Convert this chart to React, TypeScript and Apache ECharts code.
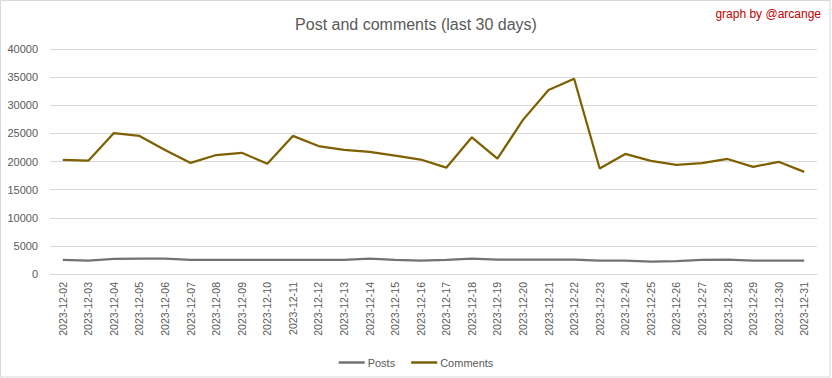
import React, { useEffect, useRef } from "react";
import * as echarts from "echarts";

const dates = [
  "2023-12-02", "2023-12-03", "2023-12-04", "2023-12-05", "2023-12-06",
  "2023-12-07", "2023-12-08", "2023-12-09", "2023-12-10", "2023-12-11",
  "2023-12-12", "2023-12-13", "2023-12-14", "2023-12-15", "2023-12-16",
  "2023-12-17", "2023-12-18", "2023-12-19", "2023-12-20", "2023-12-21",
  "2023-12-22", "2023-12-23", "2023-12-24", "2023-12-25", "2023-12-26",
  "2023-12-27", "2023-12-28", "2023-12-29", "2023-12-30", "2023-12-31",
];

const posts = [
  2490, 2370, 2670, 2730, 2730, 2490, 2490, 2490, 2490, 2490,
  2490, 2490, 2730, 2490, 2370, 2490, 2730, 2550, 2550, 2550,
  2550, 2370, 2370, 2190, 2310, 2490, 2550, 2370, 2370, 2370,
];

const comments = [
  20300, 20150, 25050, 24550, 22050, 19750, 21150, 21550, 19600, 24550,
  22750, 22050, 21700, 21050, 20350, 18900, 24300, 20500, 27400, 32700,
  34700, 18750, 21350, 20100, 19400, 19700, 20450, 19050, 19950, 18150,
];

const yTicks = { min: 0, max: 40000, interval: 5000 };

const FONT = "'Liberation Sans', Arial, sans-serif";

export default function App() {
  const ref = useRef<HTMLDivElement>(null);
  useEffect(() => {
    document.body.style.margin = "0";
    const chart = echarts.init(ref.current!, null, { renderer: "svg" });
    chart.setOption({
      animation: false,
      backgroundColor: "#ffffff",
      textStyle: { fontFamily: FONT },
      title: {
        text: "Post and comments (last 30 days)",
        left: "center",
        top: 11,
        textStyle: { fontFamily: FONT, fontSize: 16, fontWeight: "normal", color: "#595959" },
      },
      graphic: [
        {
          type: "rect",
          shape: { x: 0.5, y: 0.5, width: 829.5, height: 376.5 },
          style: { fill: "none", stroke: "#D9D9D9", lineWidth: 1 },
          silent: true,
        },
        {
          type: "text",
          right: 11,
          top: 8,
          style: { text: "graph by @arcange", fill: "#C00000", font: `12px ${FONT}` },
        },
      ],
      legend: {
        data: ["Posts", "Comments"],
        left: "center",
        top: 352,
        icon: "rect",
        itemWidth: 26,
        itemHeight: 2.5,
        itemGap: 16,
        textStyle: { fontFamily: FONT, fontSize: 11, color: "#595959", padding: [0, 0, 0, -2] },
      },
      grid: {
        left: 50,
        right: 15,
        top: 49,
        bottom: 104,
        containLabel: false,
        outerBoundsMode: "none",
      },
      xAxis: {
        type: "category",
        data: dates,
        boundaryGap: true,
        axisLine: { show: true, lineStyle: { color: "#D9D9D9", width: 1 } },
        axisTick: { show: false },
        axisLabel: {
          rotate: 90,
          interval: 0,
          margin: 8,
          fontSize: 10.5,
          color: "#595959",
          fontFamily: FONT,
        },
      },
      yAxis: {
        type: "value",
        min: yTicks.min,
        max: yTicks.max,
        interval: yTicks.interval,
        axisLine: { show: false },
        axisTick: { show: false },
        splitLine: { lineStyle: { color: "#D9D9D9", width: 1 } },
        axisLabel: {
          fontSize: 11,
          color: "#595959",
          margin: 12,
          fontFamily: FONT,
          formatter: (v: number) => String(v),
        },
      },
      series: [
        {
          name: "Posts",
          type: "line",
          data: posts,
          symbol: "none",
          color: "#767171",
          lineStyle: { color: "#767171", width: 2.25 },
        },
        {
          name: "Comments",
          type: "line",
          data: comments,
          symbol: "none",
          color: "#7F6000",
          lineStyle: { color: "#7F6000", width: 2.25 },
        },
      ],
    });
    return () => chart.dispose();
  }, []);
  return <div ref={ref} style={{ width: 832, height: 378 }} />;
}
